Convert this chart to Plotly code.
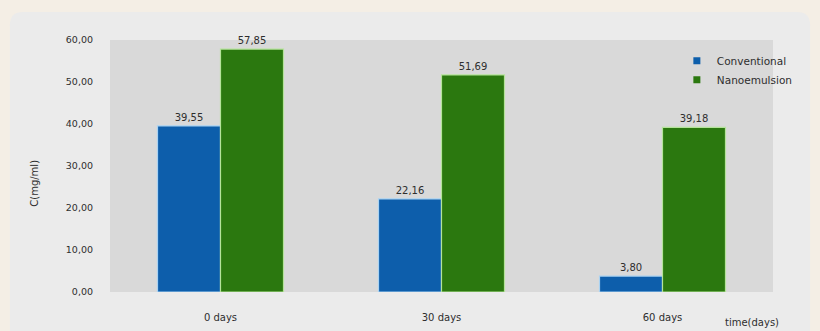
import plotly.graph_objects as go

# Drug concentration over storage time
categories = ["0 days", "30 days", "60 days"]
conventional = [39.55, 22.16, 3.80]
nanoemulsion = [57.85, 51.69, 39.18]
series_names = ["Conventional", "Nanoemulsion"]
y_ticks = [0, 10, 20, 30, 40, 50, 60]

BLUE, GREEN = "#0d5eab", "#2b780f"


def fmt(v):
    return f"{v:.2f}".replace(".", ",")


FONT = dict(family="DejaVu Sans, Verdana, sans-serif", size=10, color="#2e2e2e")
LEG_FONT = dict(FONT, size=10.5)

fig = go.Figure()
for vals, name, col, edge in [(conventional, series_names[0], BLUE, "#a9d2f2"),
                              (nanoemulsion, series_names[1], GREEN, "#b5e39a")]:
    fig.add_trace(go.Bar(
        x=categories, y=vals, name=name, showlegend=False,
        marker=dict(color=col, line=dict(color=edge, width=1.2)),
        text=[fmt(v) for v in vals], textposition="outside",
        textfont=FONT, cliponaxis=False,
    ))
    # compact legend entry with a small square key
    fig.add_trace(go.Scatter(
        x=[None], y=[None], mode="markers", name=name,
        marker=dict(symbol="square", size=7, color=col),
    ))

# rounded light panel behind the whole chart
x0, x1, y0, y1, r = -0.151, 1.056, -0.25, 1.111, 0.02
panel = (f"M {x0 + r},{y1} L {x1 - r},{y1} Q {x1},{y1} {x1},{y1 - r*2.6} "
         f"L {x1},{y0} L {x0},{y0} L {x0},{y1 - r*2.6} Q {x0},{y1} {x0 + r},{y1} Z")

fig.update_layout(
    width=820, height=331,
    margin=dict(l=110, r=47, t=40, b=39),
    paper_bgcolor="#f4eee5",
    plot_bgcolor="#d9d9d9",
    barmode="group", bargap=0.43, bargroupgap=0,
    font=FONT,
    showlegend=True,
    legend=dict(x=0.855, y=0.975, xanchor="left", yanchor="top",
                bgcolor="rgba(0,0,0,0)", font=LEG_FONT, itemwidth=30,
                tracegroupgap=0),
    shapes=[
        dict(type="path", path=panel, xref="paper", yref="paper",
             fillcolor="#ebebeb", line=dict(width=0), layer="below"),
        dict(type="rect", x0=0, x1=1, y0=0, y1=1, xref="paper", yref="paper",
             fillcolor="#d9d9d9", line=dict(width=0), layer="below"),
    ],
    annotations=[
        dict(text="time(days)", xref="paper", yref="paper", x=0.968, y=-0.123,
             xanchor="center", yanchor="middle", showarrow=False, font=FONT),
        dict(text="C(mg/ml)", xref="paper", yref="paper", x=-0.113, y=0.43,
             xanchor="center", yanchor="middle",
             textangle=-90, showarrow=False, font=FONT),
    ],
)
fig.update_xaxes(showgrid=False, zeroline=False, showline=False, automargin=False,
                 ticks="", ticklabelstandoff=18, tickfont=FONT)
fig.update_yaxes(range=[0, 60], tickvals=y_ticks,
                 ticktext=[fmt(v) for v in y_ticks], automargin=False,
                 showgrid=False, zeroline=False, showline=False,
                 ticks="", ticklabelstandoff=16, tickfont=dict(FONT, size=9.5))

fig.write_html("out.html")
